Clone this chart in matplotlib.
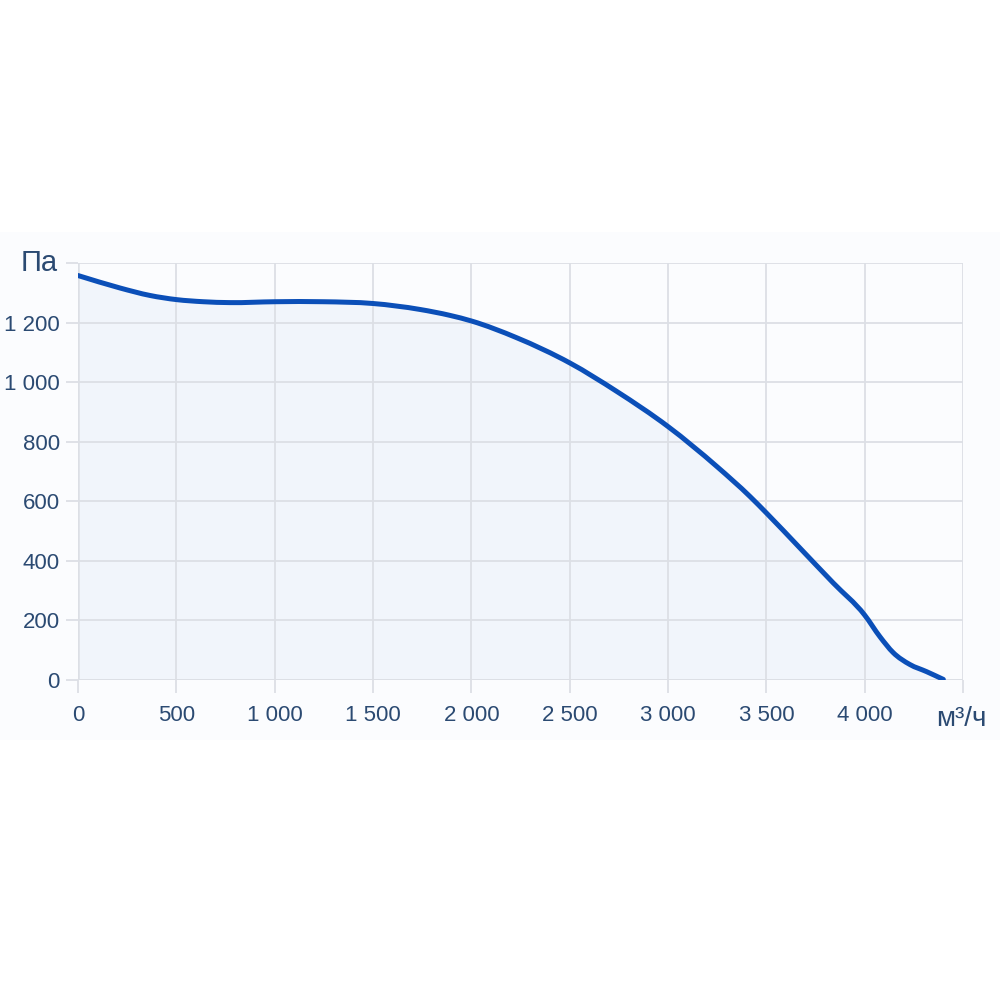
import matplotlib.pyplot as plt
import numpy as np
from matplotlib.patches import Rectangle, PathPatch
from matplotlib.path import Path
from matplotlib.ticker import FuncFormatter

# fan curve: airflow (m3/h) vs pressure (Pa)
flow = [0, 214, 366, 502, 637, 773, 1002, 1246, 1500, 1739, 1892, 2002,
        2231, 2502, 2739, 3002, 3248, 3417, 3500, 3671, 3840, 4000,
        4078, 4145, 4230, 4315, 4400]
pressure = [1358, 1316, 1291, 1277, 1270, 1267, 1270, 1270, 1264, 1244, 1224, 1205,
            1149, 1064, 969, 850, 717, 616, 561, 443, 326, 218,
            145, 92, 52, 28, 2]

x_ticks = [0, 500, 1000, 1500, 2000, 2500, 3000, 3500, 4000]
y_ticks = [0, 200, 400, 600, 800, 1000, 1200]

line_col = "#0b4fb8"
fill_col = "#f1f5fb"
grid_col = "#dcdfe5"
text_col = "#2b4a72"

plt.rcParams["font.family"] = ["Liberation Sans", "DejaVu Sans"]


def smooth_path(xs, ys):
    # cubic hermite through the read points (x is increasing), as bezier segments
    x = np.asarray(xs, float)
    y = np.asarray(ys, float)
    m = np.gradient(y, x)
    verts = [(x[0], y[0])]
    codes = [Path.MOVETO]
    for i in range(len(x) - 1):
        h = x[i + 1] - x[i]
        verts += [(x[i] + h / 3, y[i] + m[i] * h / 3),
                  (x[i + 1] - h / 3, y[i + 1] - m[i + 1] * h / 3),
                  (x[i + 1], y[i + 1])]
        codes += [Path.CURVE4] * 3
    return verts, codes


fig = plt.figure(figsize=(10, 10), dpi=100)
# faint panel behind the chart
fig.patches.append(Rectangle((0, 0.26), 1, 0.508, transform=fig.transFigure,
                             facecolor="#fbfcfe", edgecolor="none", zorder=-5))

ax = fig.add_axes([0.078, 0.32, 0.885, 0.417])
ax.set_facecolor("#fbfcfe")
ax.set_xlim(0, 4500)
ax.set_ylim(0, 1400)

verts, codes = smooth_path(flow, pressure)
fill_verts = verts + [(flow[-1], 0), (flow[0], 0), verts[0]]
fill_codes = codes + [Path.LINETO, Path.LINETO, Path.CLOSEPOLY]
ax.add_patch(PathPatch(Path(fill_verts, fill_codes), facecolor=fill_col,
                       edgecolor="none", zorder=1))
ax.add_patch(PathPatch(Path(verts, codes), facecolor="none", edgecolor=line_col,
                       linewidth=3.6, capstyle="round", joinstyle="round", zorder=3))

ax.set_xticks(x_ticks + [4500])
ax.set_yticks(y_ticks + [1400])
fmt = FuncFormatter(lambda v, p: "" if v in (4500, 1400) else f"{int(v):,}".replace(",", " "))
ax.xaxis.set_major_formatter(fmt)
ax.yaxis.set_major_formatter(fmt)
ax.grid(color=grid_col, linewidth=1.3, zorder=0)
ax.tick_params(axis="both", colors=grid_col, labelcolor=text_col, labelsize=16,
               length=9, width=1.3)
ax.tick_params(axis="x", pad=9)
ax.tick_params(axis="y", pad=4)
for s in ax.spines.values():
    s.set_visible(False)
ax.axhline(0, color=grid_col, linewidth=1.8, zorder=2)
ax.axvline(0, color=grid_col, linewidth=1.8, zorder=2)

fig.text(0.021, 0.737, "Па", fontsize=21, color=text_col, va="center", ha="left")
fig.text(0.936, 0.281, "м³/ч", fontsize=20, color=text_col, va="center", ha="left")

fig.savefig("out.png", dpi=100)
